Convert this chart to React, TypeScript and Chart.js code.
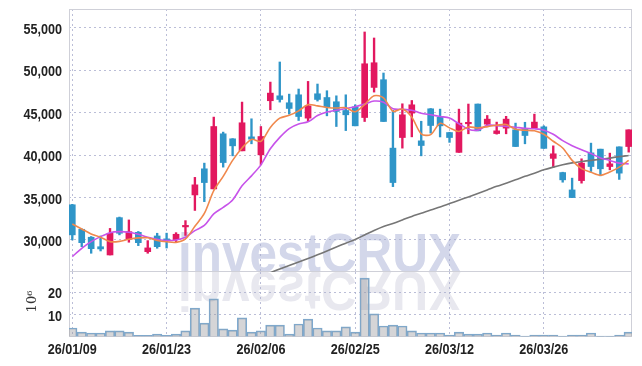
import React, { useEffect, useRef } from 'react';
import { Chart, registerables } from 'chart.js';
Chart.register(...registerables);

// ---- data ----
const dates = [
  '26/01/09', '26/01/12', '26/01/13', '26/01/14', '26/01/15', '26/01/16', '26/01/19', '26/01/20', '26/01/21', '26/01/22',
  '26/01/23', '26/01/26', '26/01/27', '26/01/28', '26/01/29', '26/01/30', '26/02/02', '26/02/03', '26/02/04', '26/02/05',
  '26/02/06', '26/02/09', '26/02/10', '26/02/11', '26/02/12', '26/02/13', '26/02/19', '26/02/20', '26/02/23', '26/02/24',
  '26/02/25', '26/02/26', '26/02/27', '26/03/03', '26/03/04', '26/03/05', '26/03/06', '26/03/09', '26/03/10', '26/03/11',
  '26/03/12', '26/03/13', '26/03/16', '26/03/17', '26/03/18', '26/03/19', '26/03/20', '26/03/23', '26/03/24', '26/03/25',
  '26/03/26', '26/03/27', '26/03/30', '26/03/31', '26/04/01', '26/04/02', '26/04/03', '26/04/06', '26/04/07', '26/04/08',
];
const xTickIndex = [0, 10, 20, 30, 40, 50];

const opens = [
  34150, 31260, 30320, 29200, 28230, 32630, 30080, 30900, 28620, 30470,
  30100, 30040, 31540, 35310, 38390, 36020, 42520, 41930, 40510, 42160,
  40040, 46420, 47000, 46180, 47120, 44370, 47240, 46800, 46300, 45270,
  45700, 44440, 47990, 48900, 40830, 42080, 44960, 41690, 45470, 44470,
  42670, 40330, 43700, 46030, 43660, 42550, 43190, 42990, 43110, 43190,
  43340, 39620, 37950, 35900, 37000, 40270, 40710, 38660, 40980, 41020,
];
const highs = [
  34200, 31300, 30400, 30470, 31360, 32700, 32360, 31000, 29920, 30790,
  30800, 30860, 32280, 37380, 39060, 44490, 42720, 41950, 46260, 44290,
  43380, 48620, 50990, 47200, 47800, 48700, 48390, 47600, 47000, 47120,
  45940, 54530, 53820, 49690, 45290, 46060, 46450, 44000, 45500, 45430,
  42700, 45430, 46030, 46030, 44680, 43900, 44580, 43780, 43880, 44840,
  43460, 41100, 37990, 37290, 39570, 41420, 40710, 40240, 40980, 42990,
];
const lows = [
  30000, 29210, 28430, 28700, 28230, 30600, 29730, 29330, 28430, 29020,
  29050, 29680, 30530, 33480, 34520, 36020, 38590, 39920, 40510, 41340,
  38860, 45350, 46260, 44840, 44090, 43970, 46380, 44640, 43380, 42900,
  43460, 43970, 47440, 43970, 36290, 40830, 42160, 39920, 42600, 42150,
  41510, 40330, 42520, 42870, 43340, 42480, 42520, 41020, 41340, 43190,
  40800, 38540, 36810, 35000, 36700, 38070, 37560, 38270, 37140, 40360,
];
const closes = [
  30600, 29680, 28970, 28940, 30790, 30790, 30980, 29680, 29060, 29210,
  29950, 30670, 31710, 36500, 36770, 43380, 39130, 41100, 43820, 41890,
  42200, 47320, 46570, 45510, 44560, 45820, 46570, 45670, 45160, 44760,
  43460, 50780, 50900, 43970, 36770, 44760, 45940, 41140, 43500, 43460,
  42080, 43780, 43850, 42870, 44250, 42870, 44250, 41020, 42320, 43900,
  40800, 40160, 37090, 35000, 39060, 38660, 38390, 38980, 37880, 42990,
];
const maShort = [
  31890, 31300, 30710, 30320, 29800, 29830, 30090, 30240, 30260, 29940,
  29780, 29710, 30120, 31610, 33120, 35810, 37500, 39380, 40840, 41860,
  41630, 43270, 44360, 44700, 45230, 45960, 45810, 45630, 45560, 45600,
  45120, 45970, 47010, 46770, 45180, 45440, 44470, 42520, 42420, 43760,
  43220, 42790, 43330, 43210, 43370, 43520, 43620, 43050, 42940, 42870,
  42460, 41640, 40850, 39390, 38420, 37990, 37640, 38020, 38590, 39380,
];
const maMid = [
  28030, 29020, 29800, 30390, 30860, 30980, 30910, 30670, 30320, 30080,
  29920, 30000, 30320, 31100, 31710, 33070, 33840, 34720, 36380, 37560,
  38860, 40750, 42100, 43140, 43680, 43930, 44670, 45080, 45290, 45500,
  45710, 46020, 46380, 46240, 45470, 45410, 45290, 44940, 44760, 44560,
  44370, 43700, 43070, 42950, 43520, 43490, 43400, 43290, 43170, 43110,
  42950, 42460, 41710, 41120, 40630, 40190, 39680, 39380, 39060, 38970,
];
const maLong = [
  null, null, null, null, null, null, null, null, null, null,
  null, null, null, null, null, null, null, null, null, null,
  null, 26140, 26575, 26990, 27400, 27815, 28250, 28700, 29170, 29620,
  30060, 30590, 31120, 31590, 31950, 32360, 32780, 33150, 33540, 33900,
  34290, 34690, 35080, 35490, 35900, 36320, 36700, 37090, 37500, 37880,
  38270, 38590, 38860, 39090, 39250, 39390, 39510, 39660, 39830, 39960,
];
// volume in millions (x 10^6)
const volumes = [
  4.0, 2.2, 1.8, 1.8, 2.7, 2.7, 2.2, 0.7, 0.7, 1.3,
  0.7, 1.3, 2.7, 12.9, 6.2, 17.0, 3.6, 3.1, 8.5, 2.2,
  2.7, 5.3, 5.3, 1.3, 5.8, 8.0, 4.0, 2.7, 2.7, 4.5,
  2.2, 26.3, 10.3, 4.9, 5.3, 4.9, 2.7, 1.8, 1.8, 1.8,
  0.9, 2.2, 1.3, 1.3, 1.8, 0.9, 1.8, 0.9, 0.4, 0.9,
  0.9, 0.9, 0.4, 0.9, 0.9, 1.8, 0.4, 0.4, 0.9, 2.2,
];
const priceTicks = [30000, 35000, 40000, 45000, 50000, 55000];
const volumeTicks = [0, 10, 20];

// ---- styles ----
const RED = '#e2185f';
const BLUE = '#2f95c8';
const ORANGE = '#f0884c';
const PURPLE = '#c753ea';
const GRAYMA = '#767676';
const GRID = 'rgba(170,174,205,0.8)';
const FRAME = '#cfd0d8';
const LABEL_FONT = "bold 15px 'Liberation Sans', Arial, sans-serif";
const LABEL_SX = 0.84;
const TICKCOLOR = '#222';

const X_MIN = -0.35;
const X_MAX = 59.35;

const zeroPad = (s: any) => {
  s.paddingTop = 0; s.paddingBottom = 0; s.paddingLeft = 0; s.paddingRight = 0;
};

const frame = (sides: string[]) => ({
  id: 'frame',
  beforeDatasetsDraw(chart: any) {
    const { ctx } = chart;
    const { left, right, top, bottom } = chart.chartArea;
    ctx.save();
    ctx.strokeStyle = FRAME;
    ctx.lineWidth = 1;
    ctx.beginPath();
    if (sides.includes('top')) { ctx.moveTo(left, top + 0.5); ctx.lineTo(right, top + 0.5); }
    if (sides.includes('bottom')) { ctx.moveTo(left, bottom - 0.5); ctx.lineTo(right, bottom - 0.5); }
    if (sides.includes('left')) { ctx.moveTo(left + 0.5, top); ctx.lineTo(left + 0.5, bottom); }
    if (sides.includes('right')) { ctx.moveTo(right - 0.5, top); ctx.lineTo(right - 0.5, bottom); }
    ctx.stroke();
    ctx.restore();
  },
});

// tick labels drawn as narrow text at the scale's own tick positions
const narrowText = (ctx: any, text: string, x: number, y: number, align: string) => {
  ctx.save();
  ctx.translate(x, y);
  ctx.scale(LABEL_SX, 1);
  ctx.font = LABEL_FONT;
  ctx.fillStyle = TICKCOLOR;
  ctx.textAlign = align;
  ctx.textBaseline = 'alphabetic';
  ctx.fillText(text, 0, 0);
  ctx.restore();
};

const yLabels = (fmt: (v: number) => string) => ({
  id: 'ylabels',
  afterDraw(chart: any) {
    const s = chart.scales.y;
    s.ticks.forEach((t: any) => {
      const txt = fmt(t.value);
      if (!txt) return;
      narrowText(chart.ctx, txt, s.right - 7, s.getPixelForValue(t.value) + 6, 'right');
    });
  },
});

const xLabels = {
  id: 'xlabels',
  afterDraw(chart: any) {
    const s = chart.scales.x;
    const base = chart.chartArea.bottom;
    s.ticks.forEach((t: any) => {
      narrowText(chart.ctx, dates[t.value], s.getPixelForValue(t.value), base + 16.7, 'center');
    });
  },
};

const WM_TEXT = 'investCRUX';
const drawWatermark = (chart: any, mirrored: boolean) => {
  const { ctx } = chart;
  const { left, right, top, bottom } = chart.chartArea;
  ctx.save();
  ctx.beginPath();
  ctx.rect(left, top, right - left, bottom - top);
  ctx.clip();
  ctx.font = "bold 56px 'Liberation Sans', Arial, sans-serif";
  const w = ctx.measureText(WM_TEXT).width;
  const sx = 283 / w;
  ctx.textBaseline = 'alphabetic';
  ctx.textAlign = 'left';
  if (!mirrored) {
    ctx.translate(left + 109, bottom);
    ctx.scale(sx, 1);
    ctx.fillStyle = '#d3d7ea';
  } else {
    ctx.translate(left + 109, top);
    ctx.scale(sx, -1);
    ctx.fillStyle = '#e8e8ef';
  }
  ctx.fillText(WM_TEXT, 0, 0);
  ctx.restore();
};

const xScaleBase = (height: number) => ({
  type: 'linear' as const,
  min: X_MIN,
  max: X_MAX,
  offset: false,
  afterBuildTicks: (s: any) => { s.ticks = xTickIndex.map((v) => ({ value: v })); },
  afterFit: (s: any) => { s.height = height; zeroPad(s); },
  ticks: { display: false },
  grid: { color: GRID, drawTicks: false, lineWidth: 1, offset: false },
  border: { display: false, dash: [2, 3] },
});

export default function App() {
  const priceRef = useRef<HTMLCanvasElement>(null);
  const volRef = useRef<HTMLCanvasElement>(null);

  useEffect(() => {
    const colors = closes.map((c, i) => (c >= opens[i] ? RED : BLUE));

    const priceChart = new Chart(priceRef.current!, {
      type: 'bar',
      data: {
        datasets: [
          {
            type: 'line', label: 'MA5',
            data: maShort.map((v, i) => ({ x: i, y: v })),
            borderColor: ORANGE, borderWidth: 1.6, pointRadius: 0, tension: 0.3, order: 0,
          } as any,
          {
            type: 'line', label: 'MA20',
            data: maMid.map((v, i) => ({ x: i, y: v })),
            borderColor: PURPLE, borderWidth: 1.6, pointRadius: 0, tension: 0.3, order: 0,
          } as any,
          {
            type: 'line', label: 'MA120',
            data: maLong.map((v, i) => ({ x: i, y: v })).filter((p) => p.y !== null),
            borderColor: GRAYMA, borderWidth: 1.6, pointRadius: 0, tension: 0.3, order: 0,
          } as any,
          {
            type: 'bar', label: 'body',
            data: opens.map((o, i) => ({ x: i, y: [o, closes[i]] })),
            backgroundColor: colors, barThickness: 6, grouped: false, minBarLength: 1.5, order: 1,
          } as any,
          {
            type: 'bar', label: 'wick',
            data: lows.map((l, i) => ({ x: i, y: [l, highs[i]] })),
            backgroundColor: colors, barThickness: 1.7, grouped: false, order: 2,
          } as any,
        ],
      },
      options: {
        responsive: false,
        animation: false,
        layout: { padding: { top: 9, right: 10, bottom: 1, left: 0 } },
        plugins: { legend: { display: false }, tooltip: { enabled: false } },
        scales: {
          x: xScaleBase(0) as any,
          y: {
            min: 26220,
            max: 57240,
            afterBuildTicks: (s: any) => { s.ticks = priceTicks.map((v) => ({ value: v })); },
            afterFit: (s: any) => { s.width = 69; zeroPad(s); },
            ticks: { display: false },
            grid: { color: GRID, drawTicks: false },
            border: { display: false, dash: [2, 3] },
          } as any,
        },
      },
      plugins: [
        { id: 'wm', beforeDraw: (c: any) => drawWatermark(c, false) },
        frame(['top', 'bottom', 'left', 'right']),
        yLabels((v) => v.toLocaleString('en-US')),
      ],
    });

    const volChart = new Chart(volRef.current!, {
      type: 'bar',
      data: {
        datasets: [
          {
            label: 'volume',
            data: volumes.map((v, i) => ({ x: i, y: v })),
            backgroundColor: 'rgba(150,150,155,0.4)',
            borderColor: '#7eaad0',
            borderWidth: 1,
            barPercentage: 1,
            categoryPercentage: 1,
          } as any,
        ],
      },
      options: {
        responsive: false,
        animation: false,
        layout: { padding: { top: 0, right: 10, bottom: 0, left: 0 } },
        plugins: { legend: { display: false }, tooltip: { enabled: false } },
        scales: {
          x: xScaleBase(29) as any,
          y: {
            min: 0,
            max: 29,
            afterBuildTicks: (s: any) => { s.ticks = volumeTicks.map((v) => ({ value: v })); },
            afterFit: (s: any) => { s.width = 69; zeroPad(s); },
            ticks: { display: false },
            grid: { color: (c: any) => (c.tick && c.tick.value === 0 ? 'rgba(0,0,0,0)' : GRID), drawTicks: false },
            border: { display: false, dash: [2, 3] },
          } as any,
        },
      },
      plugins: [
        { id: 'wm2', beforeDraw: (c: any) => drawWatermark(c, true) },
        frame(['bottom', 'left', 'right']),
        yLabels((v) => (v === 0 ? '' : String(v))),
        xLabels,
        {
          id: 'unit',
          afterDraw(chart: any) {
            const { ctx } = chart;
            const { top, bottom } = chart.chartArea;
            ctx.save();
            ctx.translate(33, (top + bottom) / 2 - 3);
            ctx.rotate(-Math.PI / 2);
            ctx.font = "13px 'DejaVu Serif', serif";
            ctx.fillStyle = '#333';
            ctx.textAlign = 'center';
            ctx.textBaseline = 'middle';
            ctx.fillText('10\u2076', 0, 0);
            ctx.restore();
          },
        },
      ],
    });

    return () => {
      priceChart.destroy();
      volChart.destroy();
    };
  }, []);

  return (
    <div style={{ position: 'fixed', left: 0, top: 0, width: 642, height: 366, background: '#fff' }}>
      <canvas ref={priceRef} width={642} height={273} style={{ position: 'absolute', left: 0, top: 0 }} />
      <canvas ref={volRef} width={642} height={94} style={{ position: 'absolute', left: 0, top: 272 }} />
    </div>
  );
}
